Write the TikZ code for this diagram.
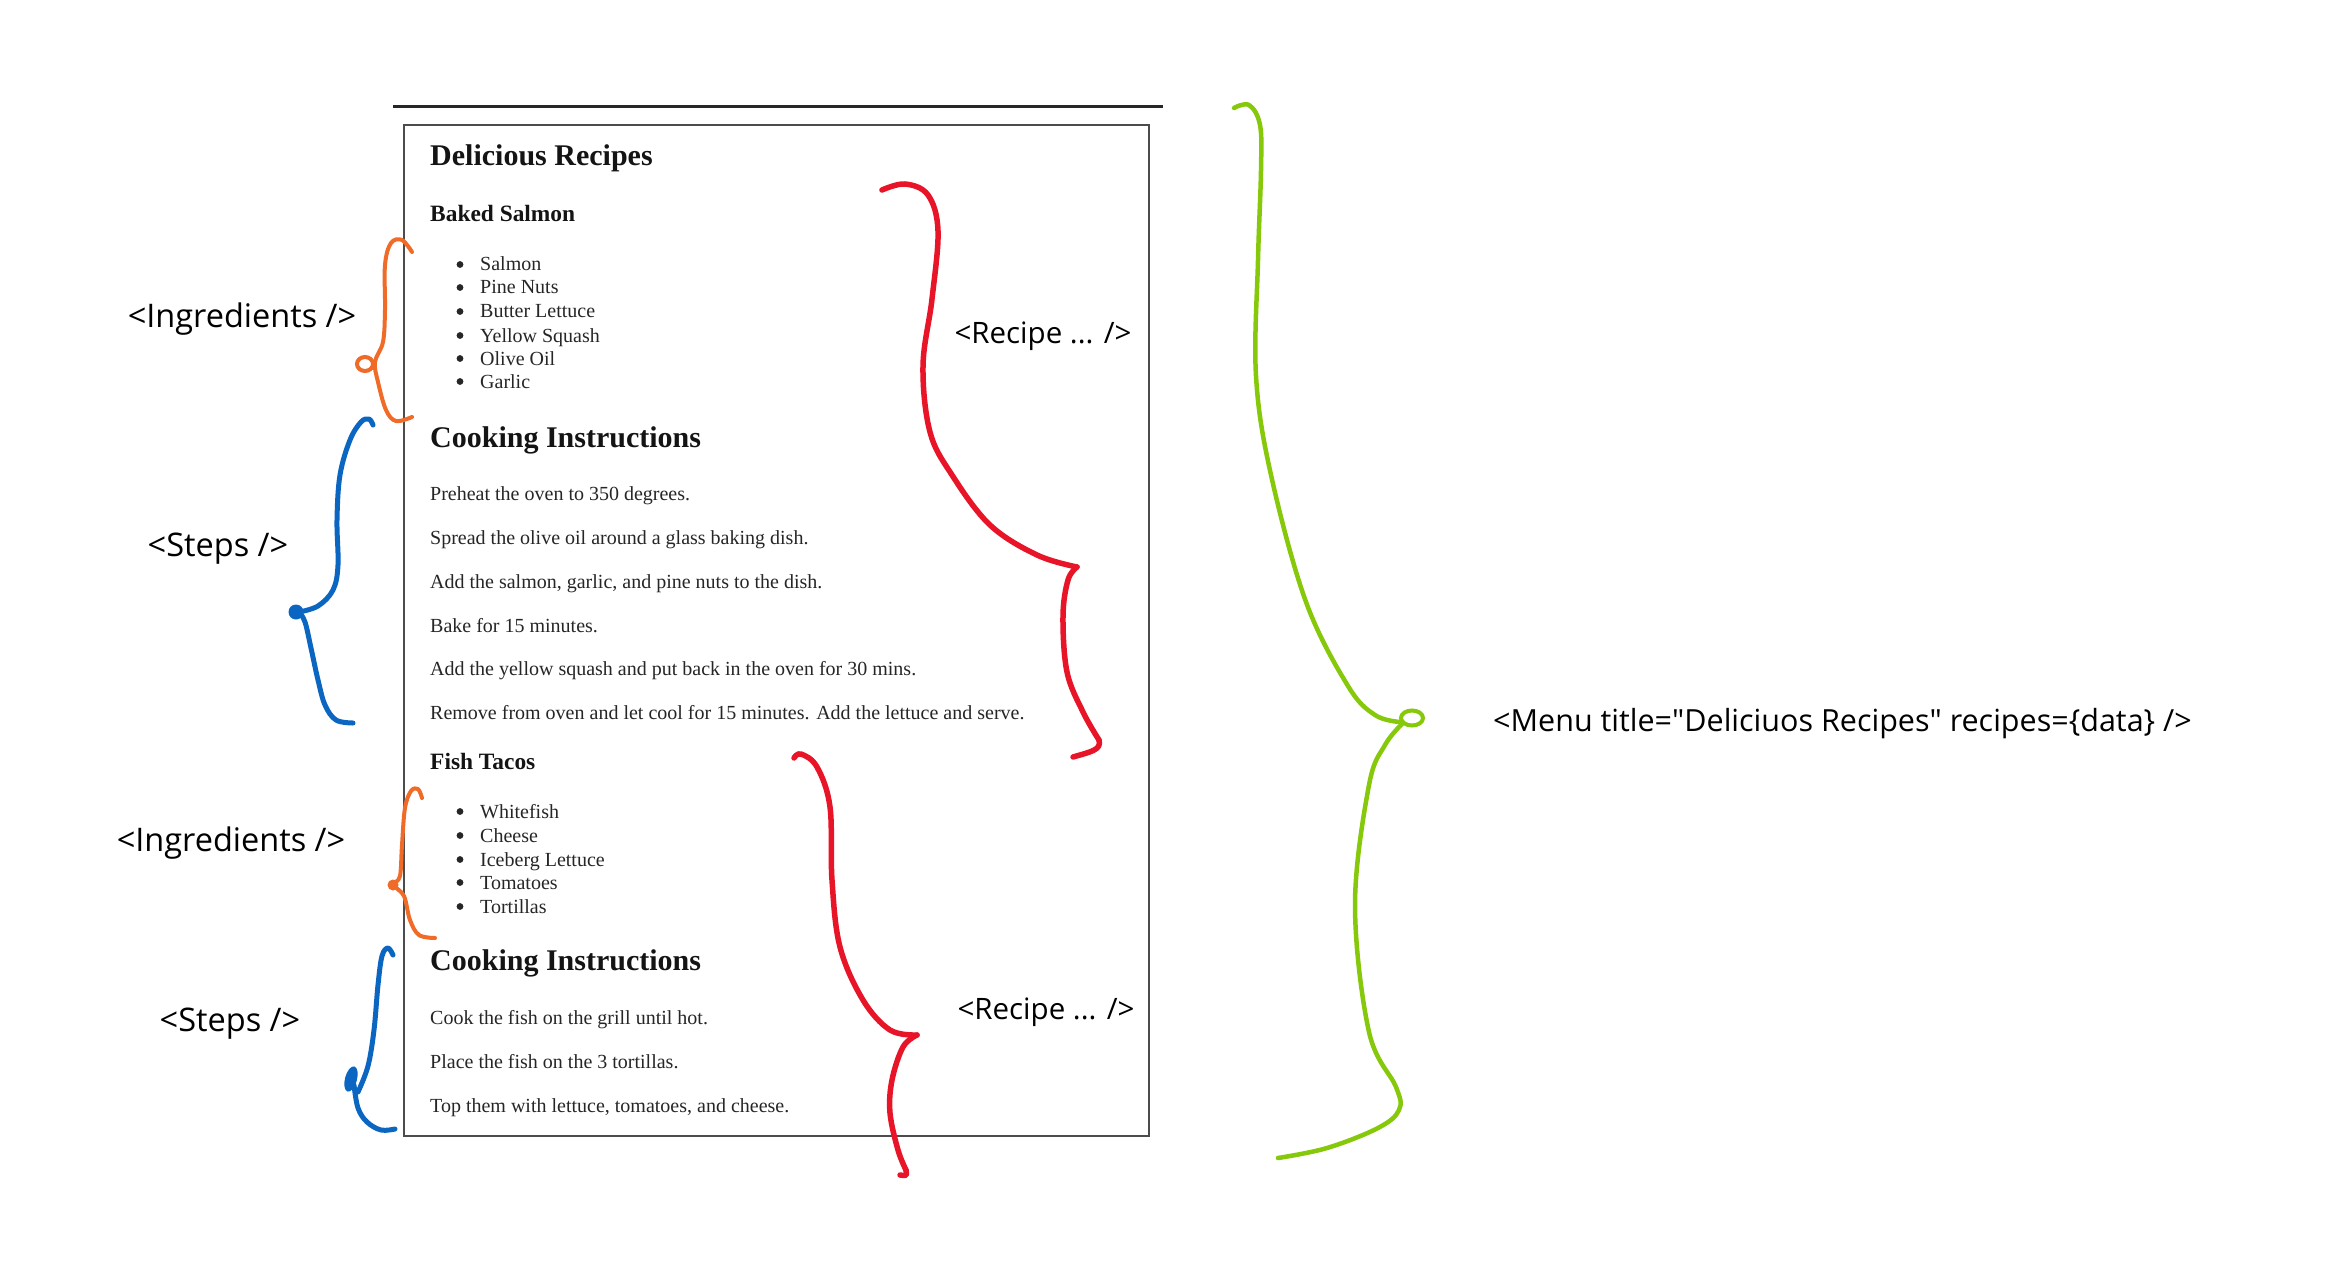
\documentclass[tikz,border=0pt]{standalone}
\usepackage{fontspec}
\setmainfont{Liberation Serif}
\newfontfamily\handfont{Open Sans}
\definecolor{cOrange}{HTML}{F06A28}
\definecolor{cBlue}{HTML}{0B66C2}
\definecolor{cRed}{HTML}{E81428}
\definecolor{cGreen}{HTML}{86C80A}
\begin{document}
\begin{tikzpicture}[x=1pt,y=-1pt,
  htwo/.style={anchor=base west,inner sep=0pt,text=black!92,font=\bfseries\fontsize{30}{34}\selectfont},
  hthree/.style={anchor=base west,inner sep=0pt,text=black!92,font=\bfseries\fontsize{23.4}{27}\selectfont},
  txt/.style={anchor=base west,inner sep=0pt,text=black!85,font=\fontsize{20}{24}\selectfont},
  lbl/.style={inner sep=0pt,text=black,font=\handfont\fontsize{32.5}{37}\selectfont},
  reclbl/.style={inner sep=0pt,text=black,font=\handfont\fontsize{29.5}{34}\selectfont},
  menulbl/.style={anchor=west,inner sep=0pt,text=black,font=\handfont\fontsize{30.5}{35}\selectfont},
  bul/.style={fill=black!85},
  stroke/.style={line cap=round,line join=round}]
\useasboundingbox (0,0) rectangle (2351,1281);
\fill[white] (0,0) rectangle (2351,1281);

% page
\draw[black!85,line width=3pt] (393,107) -- (1163,107);
\draw[black!70,line width=2pt] (404,125) rectangle (1149,1136);

% first recipe
\node[htwo] (title) at (430,166) {Delicious Recipes};
\node[hthree] (r1) at (430,222) {Baked Salmon};
\foreach \y/\t [count=\i] in {271/Salmon,294/Pine Nuts,318/Butter Lettuce,342/Yellow Squash,365/Olive Oil,388/Garlic}{
  \fill[bul] (460,\y-6.5) circle[radius=3.4pt];
  \node[txt] (ia\i) at (480,\y) {\t};
}
\node[htwo] (ci1) at (430,447) {Cooking Instructions};
\node[txt] (sa1) at (430,500) {Preheat the oven to 350 degrees.};
\node[txt] (sa2) at (430,544) {Spread the olive oil around a glass baking dish.};
\node[txt] (sa3) at (430,588) {Add the salmon, garlic, and pine nuts to the dish.};
\node[txt] (sa4) at (430,632) {Bake for 15 minutes.};
\node[txt] (sa5) at (430,675) {Add the yellow squash and put back in the oven for 30 mins.};
\node[txt] (sa6) at (430,719) {Remove from oven and let cool for 15 minutes. Add the lettuce and serve.};

% second recipe
\node[hthree] (r2) at (430,769) {Fish Tacos};
\foreach \y/\t [count=\i] in {818/Whitefish,842/Cheese,866/Iceberg Lettuce,889/Tomatoes,913/Tortillas}{
  \fill[bul] (460,\y-6.5) circle[radius=3.4pt];
  \node[txt] (ib\i) at (480,\y) {\t};
}
\node[htwo] (ci2) at (430,970) {Cooking Instructions};
\node[txt] (sb1) at (430,1024) {Cook the fish on the grill until hot.};
\node[txt] (sb2) at (430,1068) {Place the fish on the 3 tortillas.};
\node[txt] (sb3) at (430,1112) {Top them with lettuce, tomatoes, and cheese.};

% labels
\node[lbl] (lingA) at (242,319) {<Ingredients />};
\node[lbl] (lstA) at (218,549) {<Steps />};
\node[lbl] (lingB) at (231,843) {<Ingredients />};
\node[lbl] (lstB) at (230,1024) {<Steps />};
\node[reclbl] (lrecA) at (1043,336) {<Recipe ... />};
\node[reclbl] (lrecB) at (1046,1012) {<Recipe ... />};
\node[menulbl] (lmenu) at (1493,724) {<Menu title="Deliciuos Recipes" recipes=\{data\} />};

% orange braces
\draw[stroke,cOrange,line width=4pt] plot[smooth,tension=0.6] coordinates
  {(412,252) (402,240) (391,243) (385,265) (385,310) (383,342) (375,362) (378,382) (386,410) (396,421) (412,417)};
\draw[cOrange,line width=4pt] (365,364) ellipse[x radius=8pt,y radius=7pt];
\draw[stroke,cOrange,line width=4pt] plot[smooth,tension=0.6] coordinates
  {(422,798) (418,789) (411,791) (405,808) (402,845) (400,876) (394,885) (404,896) (410,920) (419,935) (435,938)};
\fill[cOrange] (393,885) circle[radius=5.5pt];

% blue braces
\draw[stroke,cBlue,line width=5pt] plot[smooth,tension=0.6] coordinates
  {(373,425) (369,419) (361,422) (350,440) (340,475) (337,520) (338,565) (333,590) (318,606) (299,612)};
\draw[stroke,cBlue,line width=5pt] plot[smooth,tension=0.6] coordinates
  {(299,612) (305,622) (311,648) (318,680) (325,705) (336,720) (353,723)};
\fill[cBlue] (296,612) circle[radius=7.5pt];
\draw[stroke,cBlue,line width=5pt] plot[smooth,tension=0.6] coordinates
  {(393,955) (388,948) (382,956) (378,985) (374,1030) (368,1066) (358,1092)};
\draw[stroke,cBlue,line width=5pt] plot[smooth,tension=0.6] coordinates
  {(354,1085) (358,1108) (367,1122) (381,1130) (395,1129)};
\fill[cBlue,rotate around={-15:(351,1079)}] (351,1079) ellipse[x radius=6pt,y radius=13pt];

% red braces
\draw[stroke,cRed,line width=5.5pt] plot[smooth,tension=0.6] coordinates
  {(882,190) (905,184) (928,195) (938,231) (932,299) (923,366) (930,432) (952,475) (990,525) (1037,555) (1077,567)};
\draw[stroke,cRed,line width=5.5pt] plot[smooth,tension=0.6] coordinates
  {(1077,567) (1068,580) (1063,616) (1067,672) (1083,712) (1099,740)};
\draw[stroke,cRed,line width=5.5pt] (1099,740) .. controls (1102,750) and (1090,752) .. (1073,757);
\draw[stroke,cRed,line width=5.5pt] plot[smooth,tension=0.6] coordinates
  {(794,758) (801,754) (817,767) (830,807) (832,880) (840,947) (863,1000) (890,1030) (917,1035)};
\draw[stroke,cRed,line width=5.5pt] plot[smooth,tension=0.6] coordinates
  {(917,1035) (903,1047) (892,1080) (890,1113) (898,1150) (906,1170)};
\draw[stroke,cRed,line width=5.5pt] (906,1170) .. controls (907,1176) .. (900,1175);

% green brace
\draw[stroke,cGreen,line width=4.5pt] plot[smooth,tension=0.6] coordinates
  {(1234,108) (1249,105) (1260,125) (1261,170) (1258,260) (1256,376) (1271,475) (1306,602) (1348,686) (1375,715) (1400,722)};
\draw[cGreen,line width=4pt] (1412,718) ellipse[x radius=11pt,y radius=7.5pt];
\draw[stroke,cGreen,line width=4.5pt] plot[smooth,tension=0.6] coordinates
  {(1402,724) (1385,745) (1369,785) (1355,905) (1369,1032) (1396,1087) (1399,1110) (1378,1128) (1327,1148) (1278,1158)};
\end{tikzpicture}
\end{document}
